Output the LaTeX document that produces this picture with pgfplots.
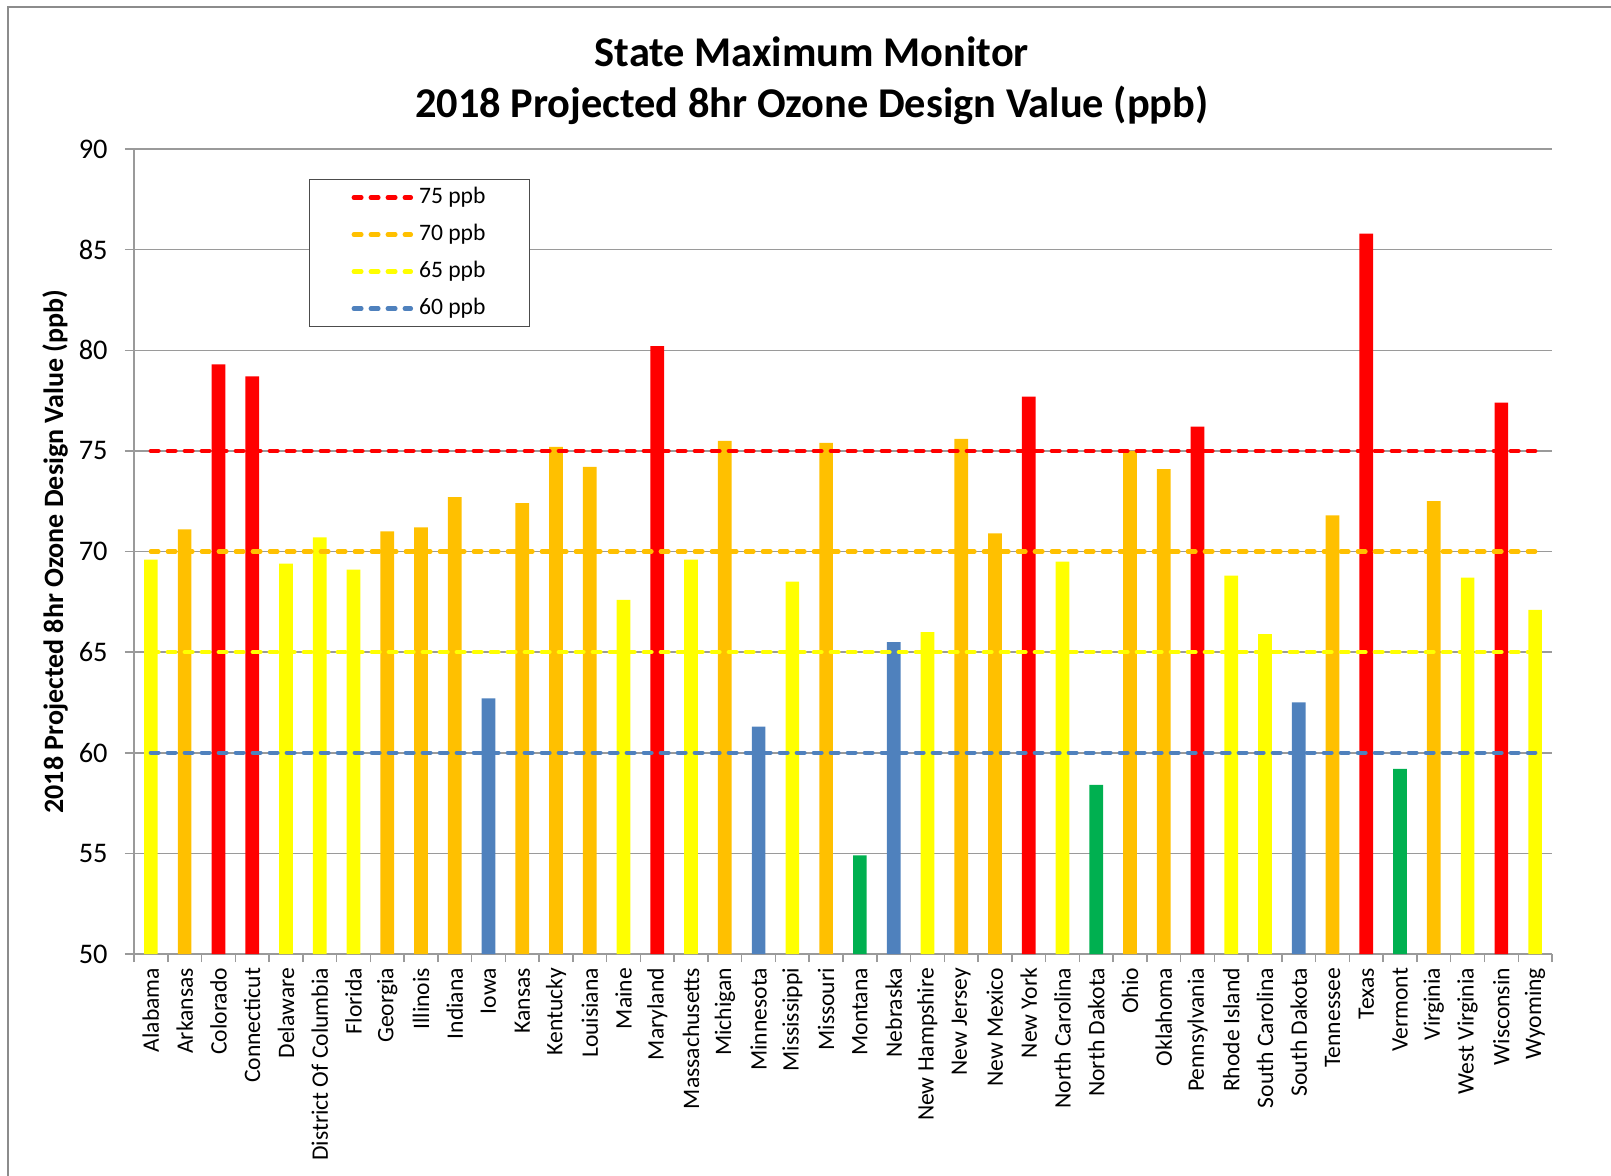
\documentclass[border=0pt]{standalone}
\usepackage{pgfplots}
\pgfplotsset{compat=1.18}
\usepackage{fontspec}
\setmainfont{Carlito}
\definecolor{cred}{HTML}{FF0000}
\definecolor{corange}{HTML}{FFC000}
\definecolor{cyellow}{HTML}{FFFF00}
\definecolor{cblue}{HTML}{4F81BD}
\definecolor{cgreen}{HTML}{00B050}
\definecolor{axisgray}{HTML}{9A9A9A}
\definecolor{framegray}{HTML}{8C8C8C}
\begin{document}
\begin{tikzpicture}
\useasboundingbox (-67pt,-110.5pt) rectangle (738.5pt,477pt);
\draw[line width=1.1pt, framegray] (-63pt,-130pt) -- (-63pt,473.5pt) -- (760pt,473.5pt);
\begin{axis}[
  at={(0,0)}, anchor=south west,
  scale only axis, width=709pt, height=402.5pt,
  xmin=-0.5, xmax=41.5, ymin=50, ymax=90,
  ytick={50,55,...,90},
  xtick={0,...,41},
  xticklabels={Alabama,Arkansas,Colorado,Connecticut,Delaware,District Of Columbia,Florida,Georgia,Illinois,Indiana,Iowa,Kansas,Kentucky,Louisiana,Maine,Maryland,Massachusetts,Michigan,Minnesota,Mississippi,Missouri,Montana,Nebraska,New Hampshire,New Jersey,New Mexico,New York,North Carolina,North Dakota,Ohio,Oklahoma,Pennsylvania,Rhode Island,South Carolina,South Dakota,Tennessee,Texas,Vermont,Virginia,West Virginia,Wisconsin,Wyoming},
  minor xtick={-0.5,0.5,...,41.5},
  tick align=outside,
  major tick length=4.5pt, minor tick length=4pt,
  every major x tick/.append style={draw=none},
  axis x line*=bottom, axis y line*=left,
  axis line style={draw=axisgray, line width=0.75pt, -},
  ymajorgrids, grid style={draw=axisgray, line width=0.75pt},
  tick style={draw=axisgray, line width=0.75pt},
  /pgf/number format/assume math mode=true,
  yticklabel style={font=\fontsize{14.2}{16}\selectfont, inner sep=0pt, xshift=-8.5pt},
  xticklabel style={rotate=90, anchor=east, font=\fontsize{11.8}{13}\selectfont, inner sep=2.3pt},
  ylabel={2018 Projected 8hr Ozone Design Value (ppb)},
  ylabel style={at={(axis description cs:0,0.5)}, anchor=center, yshift=39.5pt, font=\bfseries\fontsize{14}{16}\selectfont},
  title={State Maximum Monitor\\2018 Projected 8hr Ozone Design Value (ppb)},
  title style={at={(axis description cs:0.478,1)}, anchor=center, yshift=28.25pt, align=center, font=\bfseries\fontsize{21.2}{25.5}\selectfont},
  legend style={at={(axis description cs:0.1234,0.9627)}, anchor=north west, draw=black!70, line width=0.6pt,
    font=\fontsize{11.8}{13}\selectfont, inner xsep=21pt, inner ysep=2.75pt, row sep=6pt,
    nodes={inner sep=1pt, text height=8pt, text depth=2.5pt}},
  legend cell align=left,
  legend image code/.code={\draw[#1] (1.1pt,0pt) -- (29.6pt,0pt);},
]
% yellow bars
\addplot[ybar, bar width=6.85pt, bar shift=0pt, fill=cyellow, draw=none, forget plot] coordinates {
(0,69.6) (4,69.4) (5,70.7) (6,69.1) (14,67.6) (16,69.6) (19,68.5) (23,66.0) (27,69.5) (32,68.8) (33,65.9) (39,68.7) (41,67.1)};
% orange bars
\addplot[ybar, bar width=6.85pt, bar shift=0pt, fill=corange, draw=none, forget plot] coordinates {
(1,71.1) (7,71.0) (8,71.2) (9,72.7) (11,72.4) (12,75.2) (13,74.2) (17,75.5) (20,75.4) (24,75.6) (25,70.9) (29,75.0) (30,74.1) (35,71.8) (38,72.5)};
% red bars
\addplot[ybar, bar width=6.85pt, bar shift=0pt, fill=cred, draw=none, forget plot] coordinates {
(2,79.3) (3,78.7) (15,80.2) (26,77.7) (31,76.2) (36,85.8) (40,77.4)};
% blue bars
\addplot[ybar, bar width=6.85pt, bar shift=0pt, fill=cblue, draw=none, forget plot] coordinates {
(10,62.7) (18,61.3) (22,65.5) (34,62.5)};
% green bars
\addplot[ybar, bar width=6.85pt, bar shift=0pt, fill=cgreen, draw=none, forget plot] coordinates {
(21,54.9) (28,58.4) (37,59.2)};
% reference lines
\addplot[cred, line width=2.25pt, dash pattern=on 3.75pt off 4.75pt, line cap=round] coordinates {(0,75) (41,75)};
\addlegendentry{\hspace{2pt}75 ppb}
\addplot[corange, line width=2.25pt, dash pattern=on 3.75pt off 4.75pt, line cap=round] coordinates {(0,70) (41,70)};
\addlegendentry{\hspace{2pt}70 ppb}
\addplot[cyellow, line width=2.25pt, dash pattern=on 3.75pt off 4.75pt, line cap=round] coordinates {(0,65) (41,65)};
\addlegendentry{\hspace{2pt}65 ppb}
\addplot[cblue, line width=2.25pt, dash pattern=on 3.75pt off 4.75pt, line cap=round] coordinates {(0,60) (41,60)};
\addlegendentry{\hspace{2pt}60 ppb}
\end{axis}
\end{tikzpicture}
\end{document}
